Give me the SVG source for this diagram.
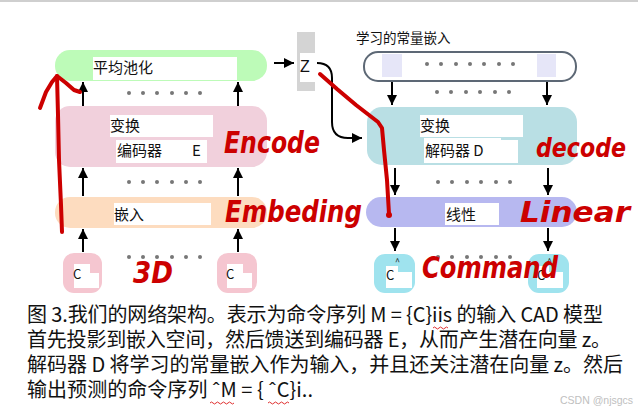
<svg xmlns="http://www.w3.org/2000/svg" width="638" height="414" viewBox="0 0 638 414">
<style>
.cjk{font-family:"Noto Sans CJK SC","Noto Sans",sans-serif;fill:#111}
.lbl{font-size:15px}
.cap{font-size:20px}
.dot{fill:#777}
.conn{stroke:#000;stroke-width:2;fill:none}
.red{stroke:#cc0000;stroke-width:4;fill:none;stroke-linecap:round;stroke-linejoin:round}
.hand{font-family:"DejaVu Sans Condensed","DejaVu Sans",sans-serif;font-weight:bold;font-style:italic;fill:#cc0000}
.wb{fill:#fff}
</style>
<defs>
<marker id="ah" viewBox="0 0 10 10" refX="10" refY="5" markerWidth="10" markerHeight="10" markerUnits="userSpaceOnUse" orient="auto">
<path d="M0,0 L10,5 L0,10 z" fill="#000"/>
</marker>
</defs>
<rect x="0" y="0" width="638" height="414" fill="#fff"/>
<rect x="0" y="0" width="638" height="2" fill="#cfcfcf"/>

<!-- Encoder side -->
<g id="pool">
<rect x="55" y="50" width="212" height="31" rx="15" fill="#bdfbb8"/>
<rect class="wb" x="93" y="57" width="144" height="23"/>
<text class="cjk lbl" x="93" y="73">平均池化</text>
</g>
<g id="z">
<rect x="297" y="32" width="18" height="59" fill="#d4d4d4"/>
<rect class="wb" x="300" y="53" width="15" height="29"/>
<text x="300" y="72" font-family="Liberation Sans,sans-serif" font-size="16" fill="#111">Z</text>
</g>
<g id="encoder">
<rect x="55" y="106" width="212" height="61" rx="15" fill="#f1d0dc"/>
<rect class="wb" x="110" y="115" width="103" height="22"/>
<rect class="wb" x="116" y="140" width="75" height="23"/>
<rect class="wb" x="191" y="140" width="16" height="23"/>
<text class="cjk lbl" x="110" y="131">变换</text>
<text class="cjk lbl" x="117" y="156">编码器</text>
<text class="cjk lbl" x="192" y="156">E</text>
</g>
<g id="embed">
<rect x="55" y="197" width="212" height="31" rx="15" fill="#fddcbf"/>
<rect class="wb" x="114" y="203" width="97" height="22"/>
<text class="cjk lbl" x="114" y="220">嵌入</text>
</g>
<g id="c1">
<rect x="63" y="253" width="39" height="40" rx="11" fill="#f5c6d0"/>
<rect class="wb" x="74" y="264" width="16" height="24"/>
<rect class="wb" x="85" y="273" width="14" height="15"/>
<text class="cjk" x="73" y="279" font-size="13">C</text>
</g>
<g id="c2">
<rect x="217" y="253" width="40" height="40" rx="11" fill="#f5c6d0"/>
<rect class="wb" x="227" y="264" width="16" height="24"/>
<rect class="wb" x="238" y="273" width="14" height="15"/>
<text class="cjk" x="226" y="279" font-size="13">C</text>
</g>

<!-- Decoder side -->
<text class="cjk" x="356" y="43" font-size="13.5">学习的常量嵌入</text>
<g id="const">
<rect x="364" y="52" width="212" height="29" rx="14" fill="#fff" stroke="#5d6875" stroke-width="2"/>
<rect x="382" y="54" width="20" height="23" fill="#e6e6f8"/>
<rect x="537" y="54" width="19" height="23" fill="#e6e6f8"/>
<circle class="dot" cx="427" cy="64" r="2"/><circle class="dot" cx="441" cy="64" r="2"/><circle class="dot" cx="456" cy="64" r="2"/><circle class="dot" cx="470" cy="64" r="2"/><circle class="dot" cx="484" cy="64" r="2"/><circle class="dot" cx="499" cy="64" r="2"/><circle class="dot" cx="513" cy="64" r="2"/>
</g>
<g id="decoder">
<rect x="367" y="107" width="210" height="58" rx="15" fill="#b9dfe4"/>
<rect class="wb" x="420" y="115" width="103" height="22"/>
<rect class="wb" x="424" y="138" width="77" height="25"/>
<rect class="wb" x="501" y="140" width="17" height="23"/>
<text class="cjk lbl" x="420" y="131">变换</text>
<text class="cjk lbl" x="425" y="156">解码器 D</text>
</g>
<g id="linear">
<rect x="366" y="197" width="211" height="30" rx="15" fill="#b7b8f0"/>
<rect class="wb" x="445" y="203" width="54" height="22"/>
<text class="cjk lbl" x="446" y="220">线性</text>
</g>
<g id="ch1">
<rect x="374" y="254" width="41" height="39" rx="11" fill="#9fe3ee"/>
<rect class="wb" x="386" y="266" width="12" height="22"/>
<rect class="wb" x="396" y="272" width="16" height="16"/>
<text class="cjk" x="386" y="280" font-size="13">C</text>
<text class="cjk" x="395" y="265" font-size="9">^</text>
</g>
<g id="ch2">
<rect x="528" y="254" width="41" height="39" rx="11" fill="#9fe3ee"/>
<rect class="wb" x="537" y="266" width="12" height="22"/>
<rect class="wb" x="547" y="272" width="16" height="16"/>
<text class="cjk" x="537" y="280" font-size="13">C</text>
<text class="cjk" x="547" y="265" font-size="9">^</text>
</g>

<!-- dots -->
<g id="dots">
<circle class="dot" cx="129" cy="93" r="2"/><circle class="dot" cx="143" cy="93" r="2"/><circle class="dot" cx="157" cy="93" r="2"/><circle class="dot" cx="172" cy="93" r="2"/><circle class="dot" cx="186" cy="93" r="2"/><circle class="dot" cx="200" cy="93" r="2"/>
<circle class="dot" cx="129" cy="182" r="2"/><circle class="dot" cx="143" cy="182" r="2"/><circle class="dot" cx="157" cy="182" r="2"/><circle class="dot" cx="172" cy="182" r="2"/><circle class="dot" cx="186" cy="182" r="2"/><circle class="dot" cx="200" cy="182" r="2"/>
<circle class="dot" cx="129" cy="257" r="2"/><circle class="dot" cx="143" cy="257" r="2"/><circle class="dot" cx="157" cy="257" r="2"/><circle class="dot" cx="172" cy="257" r="2"/><circle class="dot" cx="186" cy="257" r="2"/><circle class="dot" cx="200" cy="257" r="2"/>
<circle class="dot" cx="437" cy="92" r="2"/><circle class="dot" cx="451" cy="92" r="2"/><circle class="dot" cx="466" cy="92" r="2"/><circle class="dot" cx="480" cy="92" r="2"/><circle class="dot" cx="495" cy="92" r="2"/><circle class="dot" cx="509" cy="92" r="2"/>
<circle class="dot" cx="438" cy="182" r="2"/><circle class="dot" cx="452" cy="182" r="2"/><circle class="dot" cx="467" cy="182" r="2"/><circle class="dot" cx="481" cy="182" r="2"/><circle class="dot" cx="496" cy="182" r="2"/><circle class="dot" cx="510" cy="182" r="2"/>
<circle class="dot" cx="438" cy="257" r="2"/><circle class="dot" cx="452" cy="257" r="2"/><circle class="dot" cx="467" cy="257" r="2"/><circle class="dot" cx="481" cy="257" r="2"/><circle class="dot" cx="496" cy="257" r="2"/><circle class="dot" cx="510" cy="257" r="2"/>
</g>

<!-- connectors -->
<g id="connectors">
<line class="conn" x1="83" y1="106" x2="83" y2="82" marker-end="url(#ah)"/>
<line class="conn" x1="238" y1="106" x2="238" y2="82" marker-end="url(#ah)"/>
<line class="conn" x1="83" y1="196" x2="83" y2="168" marker-end="url(#ah)"/>
<line class="conn" x1="238" y1="196" x2="238" y2="168" marker-end="url(#ah)"/>
<line class="conn" x1="83" y1="252" x2="83" y2="229" marker-end="url(#ah)"/>
<line class="conn" x1="238" y1="252" x2="238" y2="229" marker-end="url(#ah)"/>
<line class="conn" x1="274" y1="63" x2="294" y2="63" marker-end="url(#ah)"/>
<line class="conn" x1="392" y1="82" x2="392" y2="105" marker-end="url(#ah)"/>
<line class="conn" x1="547" y1="82" x2="547" y2="105" marker-end="url(#ah)"/>
<line class="conn" x1="395" y1="168" x2="395" y2="195" marker-end="url(#ah)"/>
<line class="conn" x1="548" y1="168" x2="548" y2="195" marker-end="url(#ah)"/>
<line class="conn" x1="395" y1="228" x2="395" y2="251" marker-end="url(#ah)"/>
<line class="conn" x1="548" y1="228" x2="548" y2="251" marker-end="url(#ah)"/>
<path class="conn" d="M317,63 Q332,63 332,78 L332,122 Q332,138 348,138 L362,138" marker-end="url(#ah)"/>
</g>

<!-- red annotations -->
<g id="annotations">
<path class="red" d="M62,232 L61,205 L59,160 L58,115 L57,76"/>
<path class="red" d="M40,108 L46,92 L52,82 L57,76 L66,83 L74,90 L80,92"/>
<path class="red" d="M320,74 L337,89 L356,105 L378,122 L382,128 L384,150 L387,180 L389,214"/>
<circle cx="389" cy="215" r="3" fill="#cc0000"/>
<text class="hand" x="224" y="153" font-size="30" textLength="96" lengthAdjust="spacingAndGlyphs">Encode</text>
<text class="hand" x="225" y="222" font-size="30" textLength="137" lengthAdjust="spacingAndGlyphs">Embeding</text>
<text class="hand" x="133" y="283" font-size="30" textLength="40" lengthAdjust="spacingAndGlyphs">3D</text>
<text class="hand" x="536" y="157" font-size="26" textLength="90" lengthAdjust="spacingAndGlyphs">decode</text>
<text class="hand" x="520" y="222" font-size="28" textLength="110" lengthAdjust="spacingAndGlyphs">Linear</text>
<text class="hand" x="422" y="278" font-size="30" textLength="136" lengthAdjust="spacingAndGlyphs">Command</text>
</g>

<!-- caption -->
<g id="caption">
<text class="cjk cap" x="27" y="322" textLength="576" lengthAdjust="spacing">图 3.我们的网络架构。表示为命令序列 M = {C}iis 的输入 CAD 模型</text>
<text class="cjk cap" x="27" y="347" textLength="584" lengthAdjust="spacing">首先投影到嵌入空间，然后馈送到编码器 E，从而产生潜在向量 z。</text>
<text class="cjk cap" x="27" y="372" textLength="596" lengthAdjust="spacing">解码器 D 将学习的常量嵌入作为输入，并且还关注潜在向量 z。然后</text>
<text class="cjk cap" x="27" y="397" textLength="286" lengthAdjust="spacing">输出预测的命令序列 ˆM = { ˆC}i..</text>
<path d="M433,328 q1.5,-2 3,0 t3,0 t3,0 t3,0 t3,0" stroke="#e03030" stroke-width="1" fill="none"/>
<path d="M210,403 q1.5,-2 3,0 t3,0 t3,0 t3,0 t3,0 t3,0 t3,0 t3,0" stroke="#e03030" stroke-width="1" fill="none"/>
<path d="M268,403 q1.5,-2 3,0 t3,0 t3,0 t3,0 t3,0 t3,0 t3,0" stroke="#e03030" stroke-width="1" fill="none"/>
<text x="560" y="404" font-family="Liberation Sans,sans-serif" font-size="10.5" fill="#c0c0c0">CSDN @njsgcs</text>
</g>
</svg>
